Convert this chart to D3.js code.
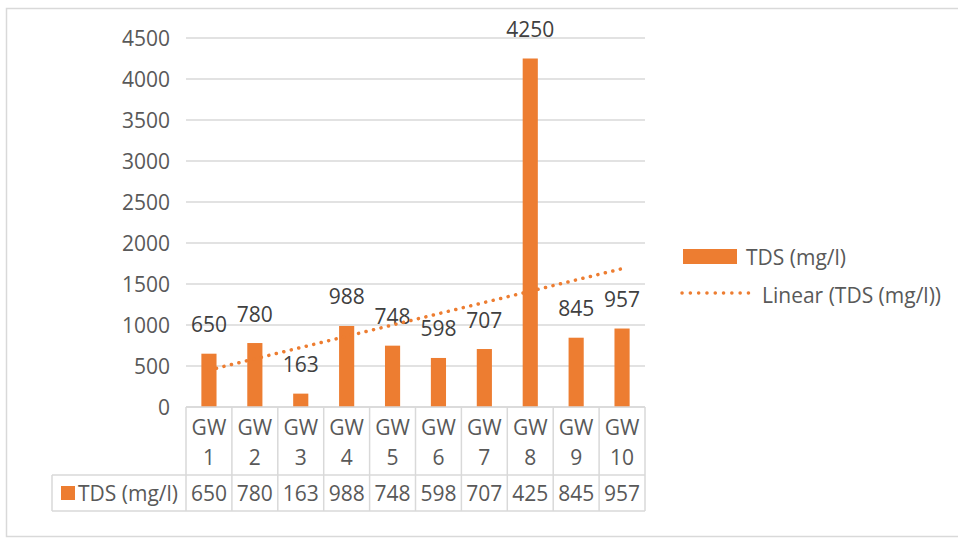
<!DOCTYPE html>
<html>
<head>
<meta charset="utf-8">
<script src="https://cdn.jsdelivr.net/npm/d3@7"></script>
<style>
  body { margin: 0; background: #fff; }
  text { font-family: "Open Sans", sans-serif; fill: #595959; }
</style>
</head>
<body>
<div id="chart"></div>
<script>
// chart data
var sites = ["GW 1", "GW 2", "GW 3", "GW 4", "GW 5", "GW 6", "GW 7", "GW 8", "GW 9", "GW 10"];
var tds = [650, 780, 163, 988, 748, 598, 707, 4250, 845, 957];
// the data table under the axis shows these (GW 8 cut to 425)
var tableLabels = ["650", "780", "163", "988", "748", "598", "707", "425", "845", "957"];
var yTicks = [0, 500, 1000, 1500, 2000, 2500, 3000, 3500, 4000, 4500];
var seriesName = "TDS (mg/l)";
var trendName = "Linear (TDS (mg/l))";

var orange = "#ED7D31", grid = "#d9d9d9";

var W = 958, H = 539;
var plot = {left: 186, right: 645, top: 38, bottom: 407};
var tableLeft = 52, rowCat = 475, rowVal = 511;

var svg = d3.select("#chart")
  .append("svg")
    .attr("width", W)
    .attr("height", H);

// outer frame
svg.append("rect")
  .attr("x", 6.5).attr("y", 8.5)
  .attr("width", W).attr("height", 528)
  .attr("fill", "none")
  .attr("stroke", "#d9d9d9")
  .attr("stroke-width", 1.5);

var x = d3.scaleBand()
  .domain(sites)
  .range([plot.left, plot.right])
  .padding(0);

var y = d3.scaleLinear()
  .domain([0, 4500])
  .range([plot.bottom, plot.top]);

// gridlines + y labels
svg.append("g")
  .selectAll("line")
  .data(yTicks)
  .enter()
  .append("line")
    .attr("x1", plot.left).attr("x2", plot.right)
    .attr("y1", d => y(d)).attr("y2", d => y(d))
    .attr("stroke", grid)
    .attr("stroke-width", 1.5);

svg.append("g")
  .selectAll("text")
  .data(yTicks)
  .enter()
  .append("text")
    .attr("x", 170)
    .attr("y", d => y(d))
    .attr("dy", "0.36em")
    .attr("text-anchor", "end")
    .style("font-size", "21px")
    .text(d => d);

// bars
var barW = x.bandwidth() * 0.33;
svg.append("g")
  .selectAll("rect")
  .data(tds)
  .enter()
  .append("rect")
    .attr("x", (d, i) => x(sites[i]) + x.bandwidth() / 2 - barW / 2)
    .attr("y", d => y(d))
    .attr("width", barW)
    .attr("height", d => y(0) - y(d))
    .attr("fill", orange);

// value labels above bars
svg.append("g")
  .selectAll("text")
  .data(tds)
  .enter()
  .append("text")
    .attr("x", (d, i) => x(sites[i]) + x.bandwidth() / 2)
    .attr("y", d => y(d) - 21.5)
    .attr("text-anchor", "middle")
    .style("font-size", "21px")
    .style("fill", "#404040")
    .text(d => d);

// linear trendline (least squares, like excel)
var n = tds.length;
var mx = d3.mean(tds, (d, i) => i + 1), my = d3.mean(tds);
var slope = d3.sum(tds, (d, i) => (i + 1 - mx) * (d - my)) / d3.sum(tds, (d, i) => (i + 1 - mx) * (i + 1 - mx));
var icpt = my - slope * mx;
var trend = [1, n].map(k => ({site: sites[k - 1], v: icpt + slope * k}));

svg.append("path")
  .datum(trend)
  .attr("fill", "none")
  .attr("stroke", orange)
  .attr("stroke-width", 3.5)
  .attr("stroke-linecap", "round")
  .attr("stroke-dasharray", "0.1 7.6")
  .attr("d", d3.line()
    .x(d => x(d.site) + x.bandwidth() / 2)
    .y(d => y(d.v)));

// data table below the axis
var tbl = svg.append("g")
  .attr("stroke", grid)
  .attr("stroke-width", 1.5);
tbl.append("line").attr("x1", plot.left).attr("x2", plot.right).attr("y1", plot.bottom).attr("y2", plot.bottom);
tbl.append("line").attr("x1", tableLeft).attr("x2", plot.right).attr("y1", rowCat).attr("y2", rowCat);
tbl.append("line").attr("x1", tableLeft).attr("x2", plot.right).attr("y1", rowVal).attr("y2", rowVal);
tbl.append("line").attr("x1", tableLeft).attr("x2", tableLeft).attr("y1", rowCat).attr("y2", rowVal);
tbl.selectAll(".col")
  .data(sites.concat(["end"]))
  .enter()
  .append("line")
    .attr("x1", (d, i) => plot.left + i * x.step())
    .attr("x2", (d, i) => plot.left + i * x.step())
    .attr("y1", plot.bottom).attr("y2", rowVal);

// category labels, two lines each
var cat = svg.append("g")
  .selectAll("text")
  .data(sites)
  .enter()
  .append("text")
    .attr("text-anchor", "middle")
    .style("font-size", "21px");
cat.append("tspan")
  .attr("x", d => x(d) + x.bandwidth() / 2)
  .attr("y", 435)
  .text(d => d.split(" ")[0]);
cat.append("tspan")
  .attr("x", d => x(d) + x.bandwidth() / 2)
  .attr("y", 465)
  .text(d => d.split(" ")[1]);

// value row
svg.append("g")
  .selectAll("text")
  .data(tableLabels)
  .enter()
  .append("text")
    .attr("x", (d, i) => x(sites[i]) + x.bandwidth() / 2)
    .attr("y", 493)
    .attr("dy", "0.36em")
    .attr("text-anchor", "middle")
    .style("font-size", "21px")
    .text(d => d);

svg.append("rect")
  .attr("x", 61).attr("y", 486)
  .attr("width", 14).attr("height", 14)
  .attr("fill", orange);
svg.append("text")
  .attr("x", 78).attr("y", 493)
  .attr("dy", "0.36em")
  .style("font-size", "21px")
  .text(seriesName);

// legend
svg.append("rect")
  .attr("x", 683).attr("y", 249)
  .attr("width", 54).attr("height", 15)
  .attr("fill", orange);
svg.append("text")
  .attr("x", 746).attr("y", 257)
  .attr("dy", "0.36em")
  .style("font-size", "21px")
  .text(seriesName);

svg.append("line")
  .attr("x1", 682).attr("x2", 749)
  .attr("y1", 293).attr("y2", 293)
  .attr("stroke", orange)
  .attr("stroke-width", 3.5)
  .attr("stroke-linecap", "round")
  .attr("stroke-dasharray", "0.1 8.2");
svg.append("text")
  .attr("x", 762).attr("y", 295)
  .attr("dy", "0.36em")
  .style("font-size", "21px")
  .text(trendName);
</script>
</body>
</html>
